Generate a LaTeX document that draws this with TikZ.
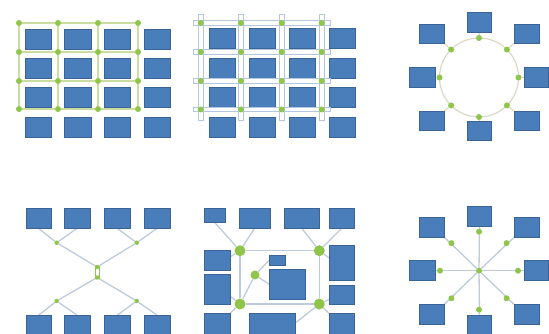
\documentclass[tikz,border=0pt]{standalone}
\usetikzlibrary{calc,backgrounds}
\definecolor{boxfill}{HTML}{4A7EBB}
\definecolor{boxline}{HTML}{3A6496}
\definecolor{dotgreen}{HTML}{8FC54A}
\definecolor{gridline}{HTML}{CADCA0}
\definecolor{barline}{HTML}{B4C7E0}
\definecolor{ringline}{HTML}{DCD8C8}
\definecolor{linkline}{HTML}{BECBDB}
\tikzset{
  bx/.style={draw=boxline,fill=boxfill,line width=0.8pt,rectangle,inner sep=0pt,outer sep=0pt},
  gdot/.style={circle,fill=dotgreen,inner sep=0pt,minimum size=6pt},
  bigdot/.style={circle,fill=dotgreen,inner sep=0pt,minimum size=11pt},
  middot/.style={circle,fill=dotgreen,inner sep=0pt,minimum size=9pt},
  gline/.style={draw=gridline,line width=1.1pt},
  barbox/.style={draw=barline,line width=0.8pt},
  rline/.style={draw=ringline,line width=1.2pt},
  lline/.style={draw=linkline,line width=1.3pt},
}
\newcommand\bxx[5]{\node[bx,minimum width={(#4-#2)*1pt},minimum height={(#5-#3)*1pt}] (#1) at ({(#2+#4)/2},{(#3+#5)/2}) {};}
\begin{document}
\begin{tikzpicture}[x=1pt,y=-1pt]
\useasboundingbox (0,0) rectangle (549,334);
\clip (0,0) rectangle (549,334);

% ---------- Panel 1: grid ----------
\foreach \i/\y in {1/29,2/58,3/87,4/117}
  \foreach \j/\x in {1/25,2/64.5,3/104,4/144}
    {\bxx{ab\i\j}{\x}{\y}{\x+26.5}{\y+20}}
\foreach \i/\y in {1/23,2/52,3/81,4/109}
  \foreach \j/\x in {1/19,2/58,3/98,4/138}
    {\node[gdot] (ad\i\j) at (\x,\y) {};}
\begin{pgfonlayer}{background}
\foreach \i in {1,2,3,4}{
  \draw[gline] (ad\i1) -- (ad\i2) -- (ad\i3) -- (ad\i4);
  \draw[gline] (ad1\i) -- (ad2\i) -- (ad3\i) -- (ad4\i);
}
\end{pgfonlayer}

% ---------- Panel 2: bars ----------
\foreach \i/\y in {1/28,2/58,3/87,4/117}
  \foreach \j/\x in {1/209.3,2/249,3/289,4/329}
    {\bxx{bb\i\j}{\x}{\y}{\x+26}{\y+20.5}}
\foreach \x in {200.7,241,281.7,321.7}
  \draw[barbox] (\x-2.2,14) rectangle (\x+2.2,120);
\foreach \y in {23,52,81,109.5}
  \draw[barbox] (193,\y-2.2) rectangle (330,\y+2.2);
\foreach \i/\y in {1/23,2/52,3/81,4/109.5}
  \foreach \j/\x in {1/200.7,2/241,3/281.7,4/321.7}
    {\node[gdot] (bd\i\j) at (\x,\y) {};}

% ---------- Panel 3: ring ----------
\node[circle,rline,minimum size=79pt,inner sep=0pt,outer sep=0pt] (ring) at (479,77.5) {};
\bxx{cT}{467}{12.7}{491.7}{32.3}
\bxx{cTL}{419.3}{24}{444.3}{43.3}
\bxx{cTR}{514}{24}{539.3}{43.3}
\bxx{cL}{409.3}{67.3}{435}{87.3}
\bxx{cR}{524}{67.3}{548.3}{87.3}
\bxx{cBL}{419.3}{111}{444.3}{130.7}
\bxx{cBR}{514}{111}{539.3}{130.7}
\bxx{cB}{467.3}{121}{491.7}{140}
\foreach \a in {0,45,...,315}
  {\node[gdot] (cd\a) at (ring.\a) {};}
\begin{pgfonlayer}{background}
\draw[rline] (cd90) -- (cT.south);
\draw[rline] (cd135) -- (cTL.south east);
\draw[rline] (cd45) -- (cTR.south west);
\draw[rline] (cd180) -- (cL.east);
\draw[rline] (cd0) -- (cR.west);
\draw[rline] (cd225) -- (cBL.north east);
\draw[rline] (cd315) -- (cBR.north west);
\draw[rline] (cd270) -- (cB.north);
\end{pgfonlayer}

% ---------- Panel 4: tree / X ----------
\bxx{d1}{26}{208.3}{51}{228.3}
\bxx{d2}{64.3}{208.3}{90}{228.3}
\bxx{d3}{104.3}{208.3}{130}{228.3}
\bxx{d4}{144.3}{208.3}{170}{228.3}
\bxx{d5}{26}{315.3}{51}{336}
\bxx{d6}{64.3}{315.3}{90}{336}
\bxx{d7}{104.3}{315.3}{130}{336}
\bxx{d8}{144.3}{315.3}{170}{336}
\node[draw=dotgreen,fill=white,line width=0.8pt,minimum width=4.3pt,minimum height=12.3pt,inner sep=0pt] (dmid) at (97.1,272.2) {};
\node[gdot,minimum size=4.5pt] (dUL) at (56.7,242.7) {};
\node[gdot,minimum size=4.5pt] (dUR) at (136.7,242.7) {};
\node[gdot,minimum size=4.5pt] (dCT) at (97.1,267) {};
\node[gdot,minimum size=4.5pt] (dCB) at (97.1,277.5) {};
\node[gdot,minimum size=4.5pt] (dLL) at (56.7,301) {};
\node[gdot,minimum size=4.5pt] (dLR) at (136.7,301) {};
\begin{pgfonlayer}{background}
\draw[lline] (d1.south) -- (dUL);
\draw[lline] (d2.south) -- (dUL);
\draw[lline] (dUL) -- (dCT);
\draw[lline] (d3.south) -- (dUR);
\draw[lline] (d4.south) -- (dUR);
\draw[lline] (dUR) -- (dCT);
\draw[lline] (dCB) -- (dLL);
\draw[lline] (dCB) -- (dLR);
\draw[lline] (dLL) -- (d5.north);
\draw[lline] (dLL) -- (d6.north);
\draw[lline] (dLR) -- (d7.north);
\draw[lline] (dLR) -- (d8.north);
\end{pgfonlayer}

% ---------- Panel 5: ring network ----------
\bxx{eA}{204}{208.3}{225}{222.3}
\bxx{eB}{239.3}{208.3}{270}{228.3}
\bxx{eC}{284.3}{208.3}{319.3}{228.3}
\bxx{eD}{329}{208.3}{354.3}{228.3}
\bxx{eE}{204}{250}{230}{270}
\bxx{eF}{204}{274.3}{230}{304}
\bxx{eG}{204}{313.3}{230}{338}
\bxx{eH}{249}{313.3}{295}{338}
\bxx{eI}{329}{313.3}{354.3}{338}
\bxx{eJ}{329}{245.7}{354.3}{280}
\bxx{eK}{329}{285}{354.3}{304}
\bxx{eL}{269.3}{255}{285}{265}
\bxx{eM}{269.3}{269.3}{305}{299.3}
\node[bigdot] (eP1) at (240,250.7) {};
\node[bigdot] (eP2) at (319.3,250.7) {};
\node[bigdot] (eP3) at (240,304) {};
\node[bigdot] (eP4) at (319.3,304) {};
\node[middot] (eP5) at (255,275) {};
\begin{pgfonlayer}{background}
\draw[lline] (eP1) -- (eP2) -- (eP4) -- (eP3) -- (eP1);
\draw[lline] (eA.south) -- (eP1);
\draw[lline] (eB.south) -- (eP1);
\draw[lline] (eP1) -- ([yshift=3pt]eE.east);
\draw[lline] (eC.south) -- (eP2);
\draw[lline] (eD.south) -- (eP2);
\draw[lline] (eP2) -- ([yshift=5pt]eJ.west);
\draw[lline] (eP3) -- ([yshift=-7pt]eF.east);
\draw[lline] (eP3) -- (eG.north east);
\draw[lline] (eP3) -- (eP5);
\draw[lline] (eP5) -- (eL.west);
\draw[lline] (eP5) -- (eM.west);
\draw[lline] (eP4) -- ([yshift=-5pt]eK.west);
\draw[lline] (eP4) -- (eI.north west);
\draw[lline] (eP4) -- ($(eH.north east)+(0,10)$);
\end{pgfonlayer}

% ---------- Panel 6: star ----------
\node[gdot] (s0) at (479,270.7) {};
\bxx{sT}{467.3}{206.7}{491.7}{226.7}
\bxx{sTL}{419.3}{217.3}{444.3}{237.3}
\bxx{sTR}{514}{217.3}{539.3}{237.3}
\bxx{sL}{409.3}{260.7}{435}{280.7}
\bxx{sR}{524}{260.7}{548.3}{280.7}
\bxx{sBL}{419.3}{304.3}{444.3}{324}
\bxx{sBR}{514}{304.3}{539.3}{324}
\bxx{sB}{467.3}{315}{491.7}{336}
\foreach \a in {0,45,...,315}
  {\node[gdot] (sd\a) at ($(s0)+(\a:39pt)$) {};}
\begin{pgfonlayer}{background}
\draw[lline] (s0) -- (sT.south);
\draw[lline] (s0) -- (sTL.south east);
\draw[lline] (s0) -- (sTR.south west);
\draw[lline] (s0) -- (sL.east);
\draw[lline] (s0) -- (sR.west);
\draw[lline] (s0) -- (sBL.north east);
\draw[lline] (s0) -- (sBR.north west);
\draw[lline] (s0) -- (sB.north);
\end{pgfonlayer}
\end{tikzpicture}
\end{document}
